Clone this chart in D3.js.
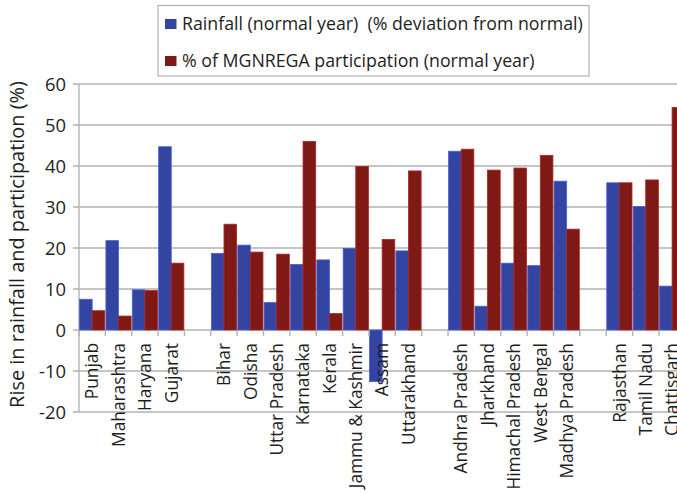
<!DOCTYPE html>
<html>
<head>
<meta charset="utf-8">
<script src="https://cdn.jsdelivr.net/npm/d3@7"></script>
<style>
  html, body { margin: 0; padding: 0; background: #fff; }
  svg { display: block; font-family: "Open Sans", sans-serif; }
</style>
</head>
<body>
<svg id="chart" width="677" height="493"></svg>
<script>
// ---- data ----
const categories = ["Punjab", "Maharashtra", "Haryana", "Gujarat", "",
  "Bihar", "Odisha", "Uttar Pradesh", "Karnataka", "Kerala", "Jammu & Kashmir", "Assam", "Uttarakhand", "",
  "Andhra Pradesh", "Jharkhand", "Himachal Pradesh", "West Bengal", "Madhya Pradesh", "",
  "Rajasthan", "Tamil Nadu", "Chattisgarh"];
const rainfall = [7.5, 21.8, 9.8, 44.7, null,
  18.7, 20.7, 6.7, 16.0, 17.1, 19.9, -12.6, 19.3, null,
  43.6, 5.8, 16.3, 15.7, 36.3, null,
  35.9, 30.1, 10.7];
const mgnrega = [4.7, 3.4, 9.6, 16.3, null,
  25.8, 19.0, 18.5, 46.0, 4.0, 39.9, 22.1, 38.8, null,
  44.1, 39.0, 39.5, 42.6, 24.6, null,
  35.9, 36.6, 54.3];
const seriesNames = ["Rainfall (normal year)  (% deviation from normal)", "% of MGNREGA participation (normal year)"];
const seriesColors = ["#3444A1", "#7E1915"];
const yTicks = [-20, -10, 0, 10, 20, 30, 40, 50, 60];
const yTitle = "Rise in rainfall and participation (%)";

// ---- layout ----
const svg = d3.select("#chart");
const x0 = 79, step = 26.36;
const x = d3.scaleBand().domain(d3.range(categories.length))
  .range([x0, x0 + step * categories.length]).paddingInner(0).paddingOuter(0);
const xs = d3.scaleBand().domain([0, 1]).range([0, x.bandwidth()]).paddingInner(0).paddingOuter(0.045);
const y = d3.scaleLinear().domain([-20, 60]).range([412, 84]);
const textColor = "#1e1e1e";
const gridColor = "#b2b2b2";

// fit a text selection's font size so that a reference string has the target width
function fit(sel, refNode, target) {
  const len = refNode.getComputedTextLength();
  const fs = parseFloat(d3.select(refNode).attr("font-size"));
  sel.attr("font-size", fs * target / len);
}

// gridlines
svg.append("g").selectAll("line").data(yTicks).join("line")
  .attr("x1", 73).attr("x2", 677)
  .attr("y1", d => y(d)).attr("y2", d => y(d))
  .attr("stroke", gridColor).attr("stroke-width", 1.4);

// y axis line
svg.append("line").attr("x1", x0).attr("x2", x0).attr("y1", y(60)).attr("y2", y(-20))
  .attr("stroke", gridColor).attr("stroke-width", 1.4);

// y tick labels
const yt = svg.append("g").selectAll("text").data(yTicks).join("text")
  .attr("x", 66).attr("y", d => y(d)).attr("dy", "0.36em")
  .attr("text-anchor", "end").attr("font-size", 16.5).attr("fill", textColor)
  .text(d => d);
fit(yt, yt.nodes()[0], 27);

// bars
const series = [rainfall, mgnrega];
series.forEach((vals, si) => {
  const fill = seriesColors[si];
  svg.append("g").selectAll("rect")
    .data(vals.map((v, i) => ({ v, i })).filter(d => d.v !== null))
    .join("rect")
    .attr("x", d => x(d.i) + xs(si))
    .attr("width", xs.bandwidth())
    .attr("y", d => y(Math.max(0, d.v)))
    .attr("height", d => Math.abs(y(d.v) - y(0)))
    .attr("fill", fill)
    .attr("stroke", d3.color(fill).brighter(0.9))
    .attr("stroke-width", 0.8);
});

// category axis ticks at zero line
svg.append("g").selectAll("line").data(d3.range(categories.length + 1)).join("line")
  .attr("x1", i => x0 + step * i).attr("x2", i => x0 + step * i)
  .attr("y1", y(0)).attr("y2", y(0) + 6)
  .attr("stroke", gridColor).attr("stroke-width", 1.4);

// category labels
const cl = svg.append("g").selectAll("text").data(categories.map((c, i) => ({ c, i }))).join("text")
  .attr("transform", d => `translate(${x(d.i) + x.bandwidth() / 2},343) rotate(-90)`)
  .attr("dy", "0.36em").attr("text-anchor", "end")
  .attr("font-size", 16).attr("fill", textColor)
  .text(d => d.c);
fit(cl, cl.nodes()[1], 104);

// y title
const tt = svg.append("text")
  .attr("transform", `translate(17,244.5) rotate(-90)`)
  .attr("dy", "0.35em").attr("text-anchor", "middle")
  .attr("font-size", 17).attr("fill", textColor)
  .text(yTitle);
fit(tt, tt.node(), 327);

// legend
const lg = svg.append("g");
lg.append("rect").attr("x", 158).attr("y", 5.5).attr("width", 431).attr("height", 70.5)
  .attr("fill", "#fff").attr("stroke", gridColor).attr("stroke-width", 1.2);
const rowY = [24, 61];
const lt = [];
seriesNames.forEach((n, i) => {
  lg.append("rect").attr("x", 165).attr("y", rowY[i] - 5).attr("width", 11.5).attr("height", 10)
    .attr("fill", seriesColors[i]);
  lt.push(lg.append("text").attr("x", 182).attr("y", rowY[i]).attr("dy", "0.35em")
    .attr("font-size", 16.5).attr("fill", textColor)
    .style("white-space", "pre")
    .text(n).node());
});
fit(d3.selectAll(lt), lt[0], 401);
</script>
</body>
</html>
